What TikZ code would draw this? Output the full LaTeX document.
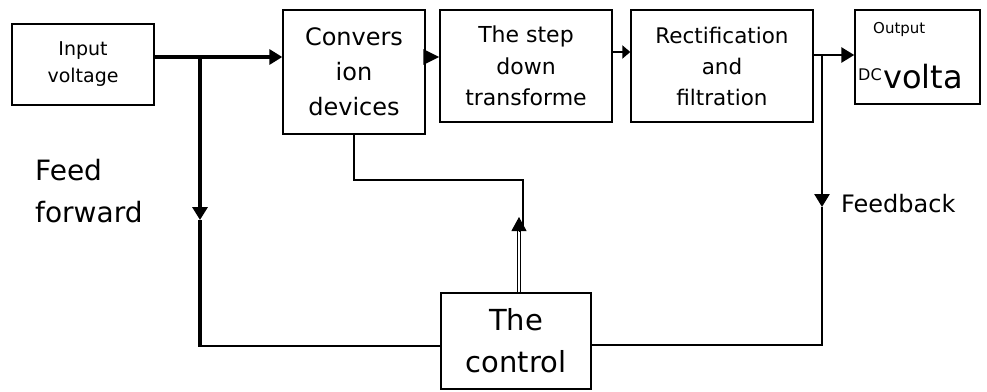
\documentclass[tikz,border=0pt]{standalone}
\usepackage{fontspec}
\setmainfont{DejaVu Sans}
\usetikzlibrary{arrows.meta,calc}
\begin{document}
\begin{tikzpicture}[x=1pt,y=-1pt,
  block/.style={draw, line width=1.4pt, rectangle, inner sep=0pt, align=center},
  wire/.style={line width=2.7pt},
  heavywire/.style={line width=3.4pt},
  head/.style={-{Triangle[length=13pt,width=15pt]}},
]
\useasboundingbox (0,0) rectangle (987,391);

% blocks of the forward path
\node[block, minimum width=142, minimum height=81, font=\fontsize{19}{27}\selectfont] (in) at (83,64.5) {Input\\voltage};
\node[block, minimum width=142, minimum height=124, font=\fontsize{24}{35}\selectfont] (conv) at (354,72) {Convers\\ion\\devices};
\node[block, minimum width=172, minimum height=112, font=\fontsize{22}{31.5}\selectfont] (step) at (526,66) {The step\\down\\transforme};
\node[block, minimum width=182, minimum height=112, font=\fontsize{21.5}{31}\selectfont] (rect) at (722,66) {Rectification\\and\\filtration};
\node[block, minimum width=125, minimum height=94] (out) at (917.5,57) {};
\node[block, minimum width=150, minimum height=96, font=\fontsize{29}{42}\selectfont] (ctrl) at (516,341) {The\\control};

% text of the output block
\node[anchor=base west, inner sep=0pt, font=\fontsize{15}{18}\selectfont] (outa) at (873,33) {Output};
\node[anchor=base west, inner sep=0pt, font=\fontsize{16}{18}\selectfont] (outb) at (858,80) {DC};
\node[anchor=base west, inner sep=0pt, font=\fontsize{32}{36}\selectfont] (outc) at (883,88) {volta};

% side labels
\node[anchor=base west, inner sep=0pt, align=left, font=\fontsize{28}{42}\selectfont] (ff) at (35,222) {Feed\\forward};
\node[anchor=base west, inner sep=0pt, font=\fontsize{24}{28}\selectfont] (fb) at (841,212) {Feedback};

% junctions and bends
\coordinate (j1) at (200,57);
\coordinate (ffa) at (200,220);
\coordinate (ffb) at (200,346);
\coordinate (j2) at (822,55);
\coordinate (fba) at (822,207);
\coordinate (fbb) at (822,345);
\coordinate (cb1) at (354,180);
\coordinate (cb2) at (523,180);
\coordinate (cb3) at (523,228);
\coordinate (up1) at (519,231);
\coordinate (up2) at (519,217);

% forward path
\draw[heavywire] (in.east |- j1) -- (j1);
\draw[heavywire, head] (j1) -- (conv.west |- j1);
\draw[wire, -{Triangle[length=16pt,width=15pt]}] (conv.east |- j1) -- (step.west |- j1);
\draw[wire, -{Triangle[length=8pt,width=13pt]}] ($(step.east)+(0,-14)$) -- ($(rect.west)+(0,-14)$);
\draw[wire] (rect.east |- j2) -- (j2);
\draw[wire, head] (j2) -- (out.west |- j2);

% feed forward branch
\draw[heavywire, head] (j1) -- (ffa);
\draw[heavywire] (ffa) -- ($(ffb)+(0,1.35)$);
\draw[wire] ($(ffb)+(-1.7,0)$) -- (ctrl.west |- ffb);

% feedback branch
\draw[wire, head] (j2) -- (fba);
\draw[wire] (fba) -- (fbb) -- (ctrl.east |- fbb);

% link from the conversion block
\draw[wire] (conv.south) -- (cb1) -- (cb2) -- (cb3);

% control output (double line)
\draw[double, double distance=2.4pt, line width=1.2pt] ($(ctrl.north)+(3,0)$) -- (up1);
\draw[line width=1pt, -{Triangle[length=14pt,width=15pt]}] (up1) -- (up2);
\end{tikzpicture}
\end{document}
